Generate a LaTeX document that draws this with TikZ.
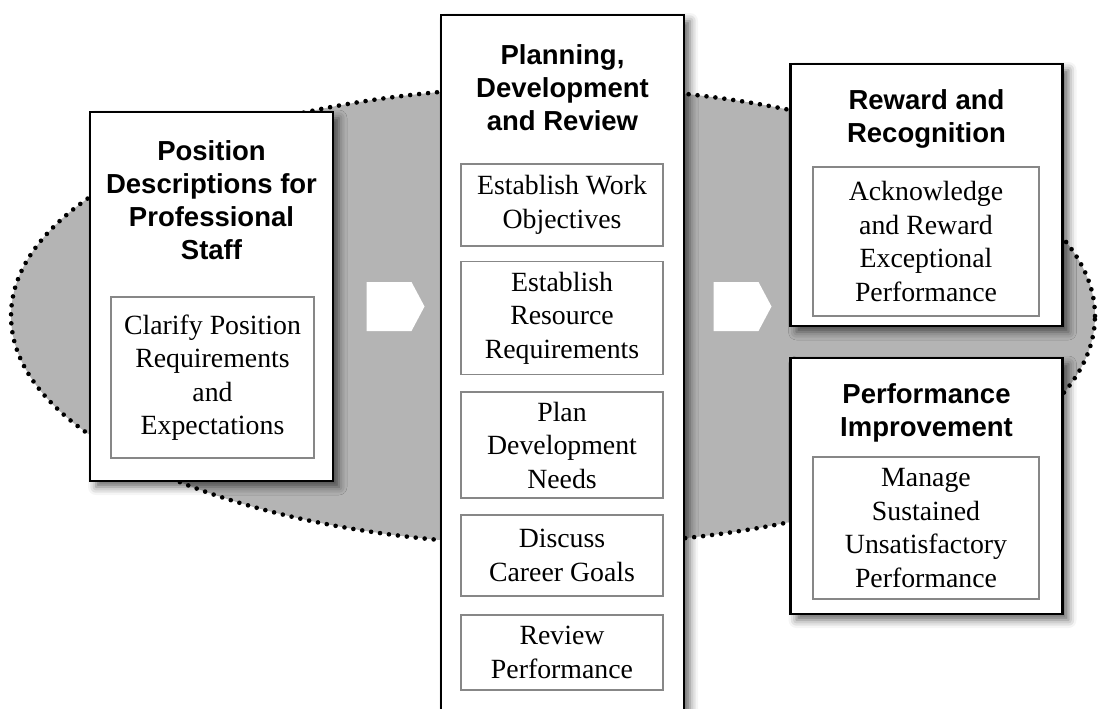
\documentclass[tikz,border=0pt]{standalone}
\usepackage{fontspec}
\setmainfont{Liberation Serif}
\newfontfamily\headfont{Liberation Sans}
\usetikzlibrary{shapes.symbols, shadows.blur}
\definecolor{ovalgray}{RGB}{180,180,180}
\definecolor{framegray}{RGB}{135,135,135}

\tikzset{
  stagebox/.style={rectangle, draw=black, line width=2.6pt, fill=white, inner sep=0pt,
    blur shadow={shadow xshift=6pt, shadow yshift=-6pt,
                 shadow blur radius=8pt, shadow opacity=60}},
  stagetitle/.style={inner sep=0pt, align=center,
    font=\headfont\bfseries\fontsize{27.5}{33}\selectfont},
  taskbox/.style={rectangle, draw=framegray, line width=1.2pt, fill=white,
    inner sep=0pt, align=center, font=\fontsize{27.8}{33.5}\selectfont},
  stagearrow/.style={signal, signal to=east, fill=white, draw=none,
    inner sep=0pt, minimum width=58pt, minimum height=49pt,
    signal pointer angle=124},
  ovalrim/.style={fill=ovalgray, draw=black, line width=4.6pt,
    line cap=round, dash pattern=on 0pt off 9pt}
}

\begin{document}
\begin{tikzpicture}[x=1pt, y=-1pt]
  \useasboundingbox (0,0) rectangle (1098,709);
  \clip (0,0) rectangle (1098,709);

  % backdrop oval
  \draw[ovalrim] (553,316) ellipse [x radius=542pt, y radius=229pt];

  % --- position descriptions ---
  \node[stagebox, minimum width=243pt, minimum height=369pt] (posbox) at (211.5,296.5) {};
  \node[stagetitle] (postitle) at (211.5,200)
    {Position\\Descriptions for\\Professional\\Staff};
  \node[taskbox, minimum width=203pt, minimum height=161pt] (clarify) at (212.5,377.5)
    {Clarify Position\\Requirements\\and\\Expectations};

  % --- planning, development and review ---
  \node[stagebox, minimum width=243pt, minimum height=745pt] (pdrbox) at (562.5,387.5) {};
  \node[stagetitle] (pdrtitle) at (562.5,88)
    {Planning,\\Development\\and Review};
  \node[taskbox, minimum width=202pt, minimum height=82pt] (objectives) at (562,205)
    {Establish Work\\Objectives};
  \node[taskbox, minimum width=202pt, minimum height=113pt] (resources) at (562,318)
    {Establish\\Resource\\Requirements};
  \node[taskbox, minimum width=202pt, minimum height=106pt] (devneeds) at (562,445)
    {Plan\\Development\\Needs};
  \node[taskbox, minimum width=202pt, minimum height=81pt] (career) at (562,555.5)
    {Discuss\\Career Goals};
  \node[taskbox, minimum width=202pt, minimum height=75pt] (review) at (562,652.5)
    {Review\\Performance};

  % --- reward and recognition ---
  \node[stagebox, minimum width=272pt, minimum height=262pt] (rewardbox) at (926.5,195) {};
  \node[stagetitle] (rewardtitle) at (926.5,119)
    {Reward and\\Recognition};
  \node[taskbox, minimum width=226pt, minimum height=149pt] (acknowledge) at (926,241.5)
    {Acknowledge\\and Reward\\Exceptional\\Performance};

  % --- performance improvement ---
  \node[stagebox, minimum width=272pt, minimum height=256pt] (improvebox) at (926.5,486) {};
  \node[stagetitle] (improvetitle) at (926.5,413)
    {Performance\\Improvement};
  \node[taskbox, minimum width=226pt, minimum height=142pt] (manage) at (926,528)
    {Manage\\Sustained\\Unsatisfactory\\Performance};

  % block arrows between the stages
  \node[stagearrow] (toplan) at (389,306.5) {};
  \node[stagearrow] (toreward) at (736,306.5) {};
\end{tikzpicture}
\end{document}
